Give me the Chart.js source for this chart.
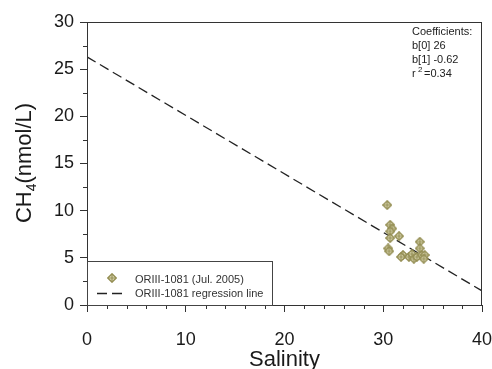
<!DOCTYPE html>
<html>
<head>
<meta charset="utf-8">
<script src="https://cdn.jsdelivr.net/npm/chart.js@4/dist/chart.umd.min.js"></script>
<style>
  html, body { margin: 0; padding: 0; background: #fff; }
  #wrap { width: 492px; height: 369px; }
</style>
</head>
<body>
<div id="wrap"><canvas id="chart" width="492" height="369"></canvas></div>
<script>
// Data
const salinity = [30.4, 30.7, 30.9, 30.7, 31.6, 30.7, 30.5, 30.6, 33.7, 33.7, 32.0, 31.8, 32.6, 32.9, 33.1, 33.4, 33.9, 34.2, 34.1];
const ch4 = [10.6, 8.5, 8.1, 7.8, 7.3, 7.1, 6.0, 5.7, 6.7, 6.0, 5.3, 5.1, 5.1, 5.4, 4.9, 5.1, 5.3, 5.3, 4.9];
const regX = [0, 40];
const regY = [26.3, 1.5];
const xTicks = [0, 10, 20, 30, 40];
const yTicks = [0, 5, 10, 15, 20, 25, 30];
const coefLines = ["Coefficients:", "b[0] 26", "b[1] -0.62", "r 2=0.34"];
const legendLabels = ["ORIII-1081 (Jul. 2005)", "ORIII-1081 regression line"];

const FONT = "'Liberation Sans', Arial, sans-serif";
const OLIVE = "#958f55";

// diamond marker with a cross, like the SigmaPlot symbol
function makeMarker(size) {
  const c = document.createElement("canvas");
  c.width = size; c.height = size;
  const g = c.getContext("2d");
  const m = size / 2;
  g.beginPath();
  g.moveTo(m, 0.8); g.lineTo(size - 0.8, m); g.lineTo(m, size - 0.8); g.lineTo(0.8, m); g.closePath();
  g.fillStyle = "#e2dfbd";
  g.fill();
  g.strokeStyle = OLIVE;
  g.lineWidth = 1.4;
  g.stroke();
  g.beginPath();
  g.moveTo(m, 1); g.lineTo(m, size - 1);
  g.moveTo(1, m); g.lineTo(size - 1, m);
  g.lineWidth = 1.2;
  g.stroke();
  return c;
}
const marker = makeMarker(10);

const points = salinity.map((s, i) => ({ x: s, y: ch4[i] }));
const regPoints = regX.map((x, i) => ({ x: x, y: regY[i] }));

const decorations = {
  id: "decorations",
  afterDraw(chart) {
    const ctx = chart.ctx;
    const a = chart.chartArea;
    const xs = chart.scales.x, ys = chart.scales.y;
    ctx.save();
    // frame
    ctx.strokeStyle = "#333";
    ctx.lineWidth = 1;
    ctx.strokeRect(a.left + 0.5, a.top + 0.5, a.right - a.left - 1, a.bottom - a.top);

    // minor ticks
    ctx.beginPath();
    for (let v = 0; v <= 40; v += 2) {
      if (v % 10 === 0) continue;
      const px = Math.round(xs.getPixelForValue(v)) + 0.5;
      ctx.moveTo(px, a.bottom); ctx.lineTo(px, a.bottom + 4);
    }
    for (let v = 0; v <= 30; v += 2.5) {
      if (v % 5 === 0) continue;
      const py = Math.round(ys.getPixelForValue(v)) + 0.5;
      ctx.moveTo(a.left, py); ctx.lineTo(a.left - 4, py);
    }
    ctx.stroke();

    // coefficients
    ctx.fillStyle = "#222";
    ctx.font = "11px " + FONT;
    ctx.textBaseline = "alphabetic";
    ctx.fillText(coefLines[0], 412, 35);
    ctx.fillText(coefLines[1], 412, 49);
    ctx.fillText(coefLines[2], 412, 63);
    ctx.fillText("r", 412, 77);
    ctx.font = "8px " + FONT;
    ctx.fillText("2", 418, 72);
    ctx.font = "11px " + FONT;
    ctx.fillText("=0.34", 424, 77);

    // legend box
    const lx = a.left, ly = 261, lw = 185, lh = a.bottom - 261;
    ctx.fillStyle = "#fff";
    ctx.fillRect(lx + 1, ly, lw, lh);
    ctx.strokeStyle = "#444";
    ctx.strokeRect(lx + 0.5, ly + 0.5, lw, lh);
    ctx.drawImage(marker, 107, 273);
    ctx.strokeStyle = "#222";
    ctx.lineWidth = 1.3;
    ctx.setLineDash([10, 5]);
    ctx.beginPath();
    ctx.moveTo(97, 293.5); ctx.lineTo(123, 293.5);
    ctx.stroke();
    ctx.setLineDash([]);
    ctx.fillStyle = "#333";
    ctx.font = "11px " + FONT;
    ctx.fillText(legendLabels[0], 135, 283);
    ctx.fillText(legendLabels[1], 135, 297);

    // axis titles
    ctx.fillStyle = "#1a1a1a";
    ctx.font = "22px " + FONT;
    ctx.textAlign = "center";
    ctx.fillText("Salinity", (a.left + a.right) / 2, 366);

    ctx.translate(31, 163);
    ctx.rotate(-Math.PI / 2);
    ctx.textAlign = "left";
    const p1 = "CH", p2 = "4", p3 = "(nmol/L)";
    ctx.font = "22px " + FONT;
    const w1 = ctx.measureText(p1).width, w3 = ctx.measureText(p3).width;
    ctx.font = "14px " + FONT;
    const w2 = ctx.measureText(p2).width;
    let x0 = -(w1 + w2 + w3) / 2;
    ctx.font = "22px " + FONT;
    ctx.fillText(p1, x0, 0);
    ctx.font = "14px " + FONT;
    ctx.fillText(p2, x0 + w1, 5);
    ctx.font = "22px " + FONT;
    ctx.fillText(p3, x0 + w1 + w2, 0);
    ctx.restore();
  }
};

new Chart(document.getElementById("chart"), {
  type: "scatter",
  data: {
    datasets: [
      {
        label: legendLabels[1],
        type: "line",
        data: regPoints,
        borderColor: "#222",
        borderWidth: 1.3,
        borderDash: [10, 5],
        pointRadius: 0,
        fill: false,
        order: 2
      },
      {
        label: legendLabels[0],
        data: points,
        pointStyle: marker,
        pointRadius: 5,
        order: 1
      }
    ]
  },
  options: {
    responsive: false,
    animation: false,
    events: [],
    layout: { padding: { left: 0, right: 10, top: 22, bottom: 0 } },
    plugins: { legend: { display: false }, tooltip: { enabled: false } },
    scales: {
      x: {
        type: "linear",
        min: 0, max: 40,
        afterFit: (s) => { s.height = 64; s.paddingLeft = 0; s.paddingRight = 0; },
        afterBuildTicks: (s) => { s.ticks = xTicks.map(v => ({ value: v })); },
        grid: { drawOnChartArea: false, tickLength: 7, color: "#333", tickColor: "#333" },
        border: { display: true, color: "#333" },
        ticks: { color: "#1a1a1a", font: { family: FONT, size: 18 }, padding: 17, maxRotation: 0 }
      },
      y: {
        type: "linear",
        min: 0, max: 30,
        afterFit: (s) => { s.width = 87; s.paddingTop = 0; s.paddingBottom = 0; },
        afterBuildTicks: (s) => { s.ticks = yTicks.map(v => ({ value: v })); },
        grid: { drawOnChartArea: false, tickLength: 7, color: "#333", tickColor: "#333" },
        border: { display: true, color: "#333" },
        ticks: { color: "#1a1a1a", font: { family: FONT, size: 18 }, padding: 6 }
      }
    }
  },
  plugins: [decorations]
});
</script>
</body>
</html>
